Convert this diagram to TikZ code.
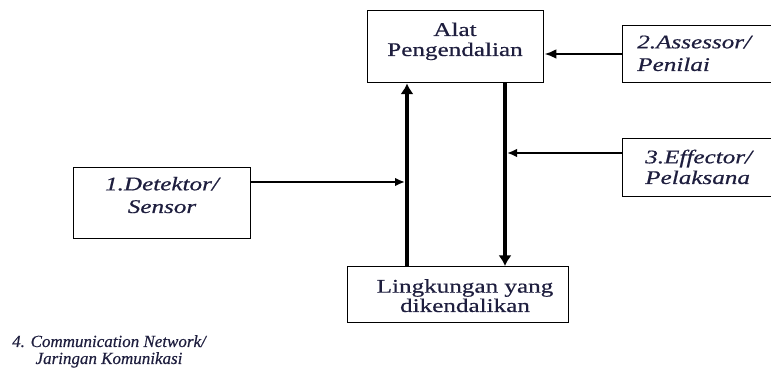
\documentclass[tikz,border=0pt]{standalone}
\usepackage{fontspec}
\setmainfont{Liberation Serif}
\newfontfamily\wideserif[FakeStretch=1.3,FakeBold=0.6]{Liberation Serif}
\newfontfamily\noteserif[FakeBold=0.4]{Liberation Serif}
\usetikzlibrary{arrows.meta}
\definecolor{ink}{RGB}{30,30,62}
\begin{document}
\begin{tikzpicture}[x=0.75pt,y=-0.75pt,
  box/.style={draw=black,line width=1.1pt,inner sep=0pt,anchor=north west},
  lbl/.style={text=ink,inner sep=0pt,anchor=base},
  boxfont/.style={font=\wideserif\fontsize{14.5}{#1}\selectfont},
  vline/.style={line width=3pt},
  hline/.style={line width=1.5pt},
  vtip/.style={-{Latex[length=8pt,width=10pt]}},
  htip/.style={-{Latex[length=7.5pt,width=6.5pt]}}]
\useasboundingbox (0,0) rectangle (771,373);
\clip (0,0) rectangle (771,373);

% blocks
\node[box,minimum width=132pt,minimum height=54pt] (alat) at (367,10) {};
\node[box,minimum width=126pt,minimum height=42.75pt] (ass) at (622,25) {};
\node[box,minimum width=132.75pt,minimum height=53.25pt] (det) at (73,167) {};
\node[box,minimum width=122.25pt,minimum height=43.5pt] (eff) at (622,138) {};
\node[box,minimum width=165.75pt,minimum height=42pt] (ling) at (347,266) {};

% block texts (placed by the baseline of their last line)
\node[lbl,boxfont=15pt,align=center] (alat-t) at (455,56) {Alat\\Pengendalian};
\node[lbl,boxfont=17pt,align=left,anchor=base west] (ass-t) at (637,71) {\itshape 2.Assessor/\\\itshape Penilai};
\node[lbl,boxfont=17pt,align=center] (det-t) at (162,213) {\itshape 1.Detektor/\\\itshape Sensor};
\node[lbl,boxfont=15.5pt,align=left,anchor=base west] (eff-t) at (645,184) {\itshape 3.Effector/\\\itshape Pelaksana};
\node[lbl,boxfont=14.5pt,align=center] (ling-t) at (465,312) {Lingkungan yang\\dikendalikan};
\node[lbl,align=center,font=\noteserif\fontsize{12.75}{12.75}\selectfont\itshape] (comm) at (109,364) {4. Communication Network/\\Jaringan Komunikasi};

% signal paths
\coordinate (upx) at (407,0);
\coordinate (dnx) at (505,0);
\coordinate (jd) at (405,182);
\coordinate (ja) at (0,54);
\coordinate (je) at (507,153);

\draw[vline,vtip] (ling.north -| upx) -- (alat.south -| upx);
\draw[vline,vtip] (alat.south -| dnx) -- (ling.north -| dnx);
\draw[hline,htip] (det.east |- jd) -- (jd);
\draw[line width=1.9pt,-{Latex[length=9pt,width=7.5pt]}] (ass.west |- ja) -- (alat.east |- ja);
\draw[hline,htip] (eff.west |- je) -- (je);
\end{tikzpicture}
\end{document}
